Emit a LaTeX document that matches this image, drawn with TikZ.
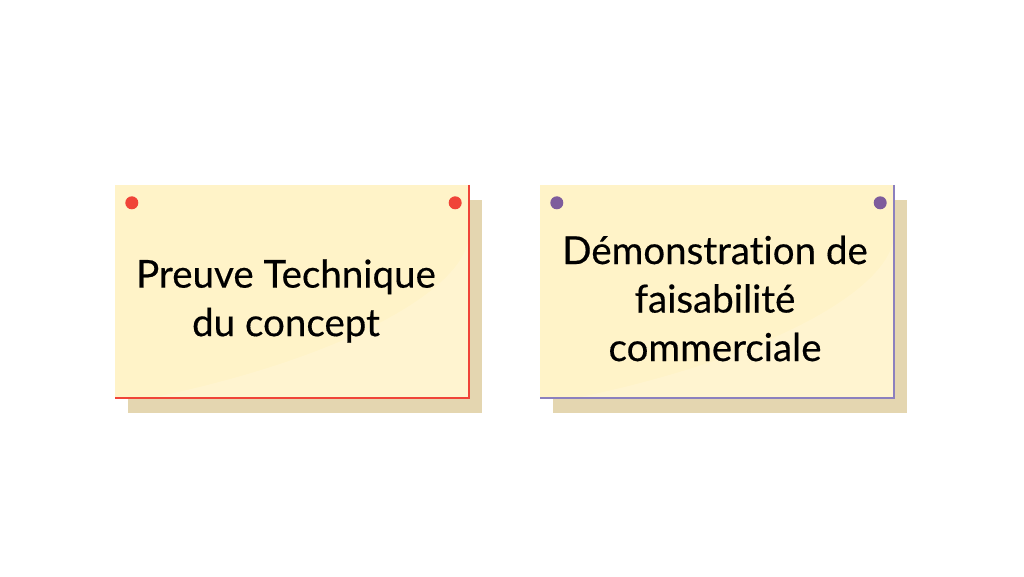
\documentclass[tikz,border=0pt]{standalone}
\usepackage{fontspec}
\setmainfont{Lato}[Ligatures={NoCommon}, FakeBold=0.4]
\usepackage{xcolor}
\usetikzlibrary{positioning}
\definecolor{notefill}{RGB}{255,243,200}
\definecolor{noteshadow}{RGB}{228,214,176}
\definecolor{pinred}{RGB}{240,68,56}
\definecolor{pinpurple}{RGB}{126,92,156}
\definecolor{edgepurple}{RGB}{140,128,190}

\tikzset{
    note/.style={rectangle, fill=notefill, minimum width=354pt, minimum height=213pt, inner sep=0pt},
    noteshade/.style={rectangle, fill=noteshadow, minimum width=354pt, minimum height=213pt, inner sep=0pt},
    pin/.style={circle, minimum size=13pt, inner sep=0pt},
    notetext/.style={align=center, text=black, font=\fontsize{38.5}{48.5}\selectfont}
}

\begin{document}
\begin{tikzpicture}[x=1pt, y=-1pt]
    \useasboundingbox[fill=white] (0,0) rectangle (1024,576);

    % Shadows
    \node[noteshade] (shade1) at (305,306.5) {};
    \node[noteshade] (shade2) at (730,306.5) {};

    % Notes
    \node[note] (note1) at (292,291.5) {};
    \node[note] (note2) at (717,291.5) {};

    % Glare
    \foreach \n in {note1, note2} {
        \fill[white, opacity=0.15] ([xshift=35pt]\n.south west) .. controls ([xshift=230pt,yshift=40pt]\n.south west) and ([yshift=110pt]\n.south east) .. ([yshift=165pt]\n.south east) -- (\n.south east) -- cycle;
    }

    % Edges
    \draw[pinred, line width=1.6pt] (note1.north east) -- (note1.south east) -- (note1.south west);
    \draw[edgepurple, line width=1.6pt] (note2.north east) -- (note2.south east) -- (note2.south west);

    % Pins
    \node[pin, fill=pinred] (pin1a) at ([xshift=17pt,yshift=-18pt]note1.north west) {};
    \node[pin, fill=pinred] (pin1b) at ([xshift=-14pt,yshift=-18pt]note1.north east) {};
    \node[pin, fill=pinpurple] (pin2a) at ([xshift=17pt,yshift=-18pt]note2.north west) {};
    \node[pin, fill=pinpurple] (pin2b) at ([xshift=-14pt,yshift=-18pt]note2.north east) {};

    % Labels
    \node[notetext] (label1) at (286,301) {Preuve Technique\\du concept};
    \node[notetext] (label2) at (715,298.5) {Démonstration de\\faisabilité\\commerciale};
\end{tikzpicture}
\end{document}
